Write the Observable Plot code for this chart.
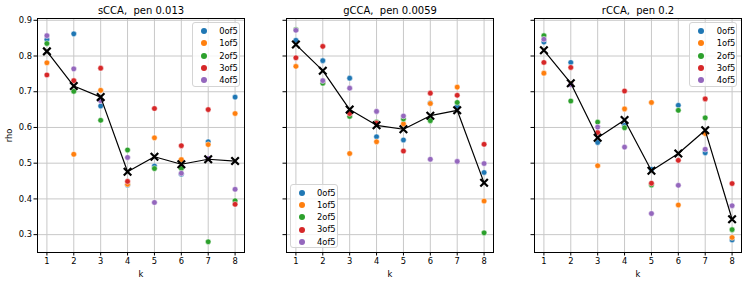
<!DOCTYPE html>
<html><head><meta charset="utf-8">
<script src="https://cdn.jsdelivr.net/npm/d3@7"></script>
<script src="https://cdn.jsdelivr.net/npm/@observablehq/plot@0.6"></script>
<style>
body{margin:0;background:#fff;}
#chart{position:relative;width:747px;height:284px;overflow:hidden;font-family:"DejaVu Sans",sans-serif;background:#fff;}
.panel{position:absolute;top:0;}
.legend{position:absolute;width:48px;height:64.5px;background:rgba(255,255,255,0.8);border:1px solid #d4d4d4;border-radius:3px;box-sizing:border-box;font-size:8.33px;padding-top:2px;}
.row{position:relative;height:12.3px;line-height:12.3px;}
.mk{position:absolute;left:8px;top:3.2px;width:6px;height:6px;border-radius:50%;}
.lb{position:absolute;left:26.5px;top:0;color:#000;}
</style></head>
<body><div id="chart"></div>
<script>
const ks = [1, 2, 3, 4, 5, 6, 7, 8];
const folds = ["0of5", "1of5", "2of5", "3of5", "4of5"];
const colors = ["#1f77b4", "#ff7f0e", "#2ca02c", "#d62728", "#9467bd"];
const yTicks = [0.3, 0.4, 0.5, 0.6, 0.7, 0.8, 0.9];

// sCCA, pen 0.013
const sCCA_0of5 = [0.846, 0.862, 0.660, 0.439, 0.492, 0.469, 0.560, 0.685];
const sCCA_1of5 = [0.781, 0.525, 0.704, 0.441, 0.571, 0.510, 0.552, 0.639];
const sCCA_2of5 = [0.835, 0.701, 0.620, 0.537, 0.485, 0.485, 0.280, 0.395];
const sCCA_3of5 = [0.747, 0.731, 0.766, 0.449, 0.653, 0.549, 0.650, 0.385];
const sCCA_4of5 = [0.857, 0.764, 0.675, 0.516, 0.390, 0.472, 0.513, 0.427];
const sCCA_mean = [0.813, 0.716, 0.685, 0.476, 0.518, 0.497, 0.511, 0.506];

// gCCA, pen 0.0059
const gCCA_0of5 = [0.844, 0.787, 0.738, 0.574, 0.565, 0.668, 0.659, 0.474];
const gCCA_1of5 = [0.771, 0.726, 0.527, 0.560, 0.610, 0.667, 0.713, 0.394];
const gCCA_2of5 = [0.874, 0.724, 0.631, 0.615, 0.624, 0.619, 0.670, 0.305];
const gCCA_3of5 = [0.795, 0.827, 0.639, 0.612, 0.534, 0.696, 0.690, 0.553];
const gCCA_4of5 = [0.872, 0.731, 0.710, 0.645, 0.632, 0.511, 0.505, 0.499];
const gCCA_mean = [0.832, 0.759, 0.650, 0.606, 0.595, 0.633, 0.648, 0.445];

// rCCA, pen 0.2
const rCCA_0of5 = [0.839, 0.782, 0.558, 0.606, 0.483, 0.662, 0.529, 0.285];
const rCCA_1of5 = [0.752, 0.722, 0.493, 0.652, 0.670, 0.383, 0.583, 0.292];
const rCCA_2of5 = [0.857, 0.674, 0.615, 0.599, 0.439, 0.648, 0.627, 0.314];
const rCCA_3of5 = [0.782, 0.768, 0.586, 0.702, 0.444, 0.508, 0.680, 0.443];
const rCCA_4of5 = [0.847, 0.720, 0.601, 0.545, 0.359, 0.438, 0.539, 0.381];
const rCCA_mean = [0.816, 0.724, 0.571, 0.621, 0.479, 0.527, 0.592, 0.343];

const titles = ["sCCA,  pen 0.013", "gCCA,  pen 0.0059", "rCCA,  pen 0.2"];

const chart = document.getElementById("chart");
const W = 207, H = 284, MT = 18, MB = 32, ML = 37, MR = 6;

function makePanel(title, series, mean, showY, frameLeft, legendPos) {
  const data = [];
  folds.forEach((f, i) => ks.forEach((k, j) => data.push({k, rho: series[i][j], fold: f})));
  const meanData = ks.map((k, j) => ({k, rho: mean[j]}));
  const svg = Plot.plot({
    width: ML + W + MR, height: H,
    marginLeft: ML, marginRight: MR, marginTop: MT, marginBottom: MB,
    style: {fontFamily: "DejaVu Sans", fontSize: "8.33px", background: "transparent", color: "black", overflow: "visible"},
    x: {domain: [0.65, 8.35]},
    y: {domain: [0.25, 0.905]},
    color: {domain: folds, range: colors},
    marks: [
      Plot.gridX(ks, {stroke: "#c8c8c8", strokeOpacity: 1, strokeWidth: 1}),
      Plot.gridY(yTicks, {stroke: "#c8c8c8", strokeOpacity: 1, strokeWidth: 1}),
      Plot.axisX(ks, {tickSize: 3.5, tickPadding: 2, label: "k", labelAnchor: "center", labelArrow: "none", labelOffset: 24}),
      Plot.axisY(yTicks, {tickSize: 3.5, tickPadding: 2,
        tickFormat: showY ? (d => d.toFixed(1)) : (() => ""),
        label: showY ? "rho" : null, labelAnchor: "center", labelArrow: "none", labelOffset: 31}),
      Plot.dot(data, {x: "k", y: "rho", fill: "fold", stroke: "white", strokeWidth: 0.5, r: 2.8}),
      Plot.line(meanData, {x: "k", y: "rho", stroke: "black", strokeWidth: 1.2}),
      Plot.dot(meanData, {x: "k", y: "rho", symbol: "times", r: 3.5, stroke: "black", strokeWidth: 2.2}),
      Plot.frame({stroke: "black", strokeWidth: 1}),
      Plot.text([title], {text: d => d, frameAnchor: "top", dy: -8, fontSize: 10, lineAnchor: "middle"})
    ]
  });
  svg.classList.add("panel");
  svg.style.left = (frameLeft - ML) + "px";
  chart.appendChild(svg);

  const lg = document.createElement("div");
  lg.className = "legend";
  if (legendPos === "upper right") {
    lg.style.left = (frameLeft + W - 4 - 48) + "px";
    lg.style.top = (MT + 4) + "px";
  } else {
    lg.style.left = (frameLeft + 4) + "px";
    lg.style.top = (H - MB - 4 - 64.5) + "px";
  }
  folds.forEach((f, i) => {
    const row = document.createElement("div");
    row.className = "row";
    row.innerHTML = `<span class="mk" style="background:${colors[i]}"></span><span class="lb">${f}</span>`;
    lg.appendChild(row);
  });
  chart.appendChild(lg);
}

makePanel(titles[0], [sCCA_0of5, sCCA_1of5, sCCA_2of5, sCCA_3of5, sCCA_4of5], sCCA_mean, true, 36.7, "upper right");
makePanel(titles[1], [gCCA_0of5, gCCA_1of5, gCCA_2of5, gCCA_3of5, gCCA_4of5], gCCA_mean, false, 285.5, "lower left");
makePanel(titles[2], [rCCA_0of5, rCCA_1of5, rCCA_2of5, rCCA_3of5, rCCA_4of5], rCCA_mean, false, 534.3, "upper right");
</script>
</body></html>
